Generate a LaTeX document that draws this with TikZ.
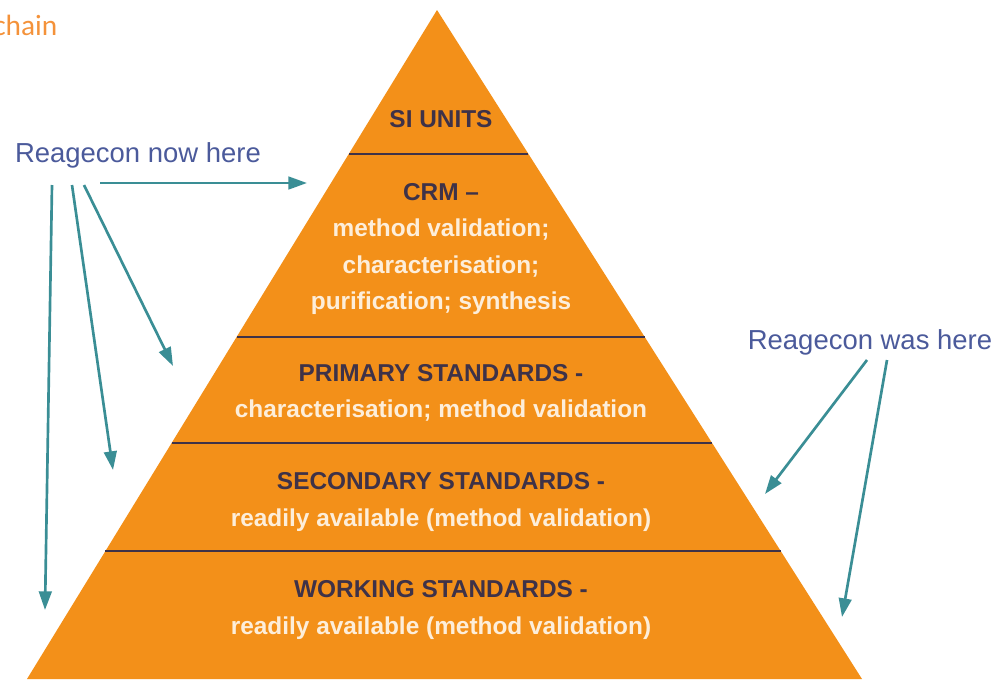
\documentclass[tikz,border=0pt]{standalone}
\usepackage{fontspec}
\setmainfont{Liberation Sans}
\newfontfamily\carlito{Carlito}
\usetikzlibrary{arrows.meta,calc}
\definecolor{pyrorange}{RGB}{243,144,25}
\definecolor{pyrdark}{RGB}{62,50,72}
\definecolor{pyrcream}{RGB}{253,238,218}
\definecolor{labelblue}{RGB}{75,90,155}
\definecolor{arrowteal}{RGB}{58,142,149}
\definecolor{titleorange}{RGB}{244,146,58}
\tikzset{
  tier/.style={font=\bfseries\fontsize{18.3}{27.2}\selectfont, align=center, inner sep=0pt, text=pyrcream},
  where/.style={font=\fontsize{20.6}{24}\selectfont, text=labelblue, inner sep=0pt},
  pointer/.style={draw=arrowteal, line width=2pt, -{Triangle[length=14pt,width=9.5pt]}},
}
\begin{document}
\begin{tikzpicture}[x=0.75pt, y=-0.75pt, line join=round]
  \useasboundingbox (0,0) rectangle (998,679);
  % pyramid
  \coordinate (apex) at (437,10);
  \coordinate (bl) at (27,679);
  \coordinate (br) at (862,679);
  \fill[pyrorange] (apex) -- (bl) -- (br) -- cycle;
  \foreach \y in {154,337,443,551}
    \draw[line width=1.6pt, pyrdark] ($(apex)!{(\y-10)/669}!(bl)$) -- ($(apex)!{(\y-10)/669}!(br)$);
  % tiers
  \node[tier, text=pyrdark] (si) at (441,119) {SI UNITS};
  \node[tier] (crm) at (441,249) {\textcolor{pyrdark}{CRM –}\\ method validation;\\ characterisation;\\ purification; synthesis};
  \node[tier] (prim) at (441,392.5) {\textcolor{pyrdark}{PRIMARY STANDARDS -}\\ characterisation; method validation};
  \node[tier] (sec) at (441,502) {\textcolor{pyrdark}{SECONDARY STANDARDS -}\\ readily available (method validation)};
  \node[tier] (work) at (441,610) {\textcolor{pyrdark}{WORKING STANDARDS -}\\ readily available (method validation)};
  % labels
  \node[font=\carlito\fontsize{22}{26}\selectfont, text=titleorange, anchor=base west, inner sep=0pt] (title) at (-7,35) {chain};
  \node[where] (now) at (138,155) {Reagecon now here};
  \node[where] (was) at (870,342) {Reagecon was here};
  % arrows
  \coordinate (nowa) at (100,183); \coordinate (crmtip) at (307,183);
  \coordinate (nowb) at (52,185);  \coordinate (worktip) at (45,610);
  \coordinate (nowc) at (72,185);  \coordinate (sectip) at (113,470);
  \coordinate (nowd) at (84,185);  \coordinate (primtip) at (173,366);
  \coordinate (wasa) at (867,360); \coordinate (secedge) at (765,494);
  \coordinate (wasb) at (887,360); \coordinate (workedge) at (842,617);
  \draw[pointer] (nowa) -- (crmtip);
  \draw[pointer] (nowb) -- (worktip);
  \draw[pointer] (nowc) -- (sectip);
  \draw[pointer] (nowd) -- (primtip);
  \draw[pointer] (wasa) -- (secedge);
  \draw[pointer] (wasb) -- (workedge);
\end{tikzpicture}
\end{document}
